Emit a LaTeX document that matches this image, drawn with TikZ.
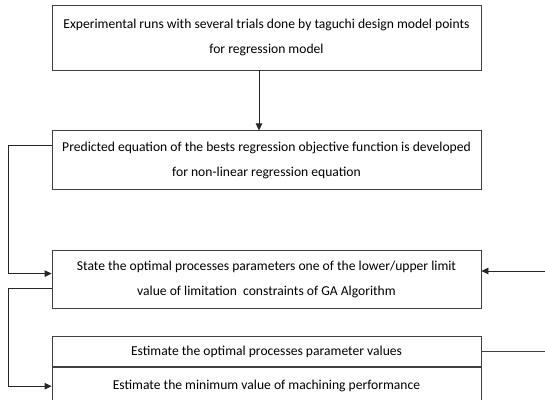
\documentclass[tikz,border=0pt]{standalone}
\usepackage{fontspec}
\setmainfont{Carlito}
\usetikzlibrary{arrows.meta,positioning}

\begin{document}
\begin{tikzpicture}[
  x=1pt, y=-1pt,
  node distance=60pt,
  box/.style={rectangle, draw=black!75, line width=0.8pt, fill=white, minimum width=429pt, inner sep=0pt, align=center, font=\fontsize{13.6}{25}\selectfont},
  arrow/.style={-{Triangle[length=7pt,width=6.5pt]}, draw=black!85, line width=0.8pt},
  link/.style={draw=black!75, line width=0.8pt}
]
\useasboundingbox (0,0) rectangle (545,399);

\node[box, minimum height=65pt] (runs) at (266.5,37.5) {Experimental runs with several trials done by taguchi design model points\\for regression model};
\node[box, minimum height=59pt, below=of runs] (pred) {Predicted equation of the bests regression objective function is developed\\for non-linear regression equation};
\node[box, minimum height=58pt, below=of pred] (state) {State the optimal processes parameters one of the lower/upper limit\\value of limitation\ \ constraints of GA Algorithm};
\node[box, minimum height=30pt, below=27pt of state] (est) {Estimate the optimal processes parameter values};
\node[box, minimum height=38pt, below=0pt of est] (mini) {Estimate the minimum value of machining performance};

% free ends on the right
\coordinate (gain) at (545,271);
\coordinate (gaout) at (est.east -| gain);

\draw[arrow] ([xshift=-7.5pt]runs.south) -- ([xshift=-7.5pt]pred.north);
\draw[arrow] ([yshift=14.5pt]pred.west) -- ++(-43,0) |- ([yshift=6pt]state.west);
\draw[arrow] ([yshift=-9pt]state.west) -- ++(-43,0) |- (mini.west);
\draw[arrow] (gain) -- (gain -| state.east);
\draw[link] (est.east) -- (gaout);

\end{tikzpicture}
\end{document}
